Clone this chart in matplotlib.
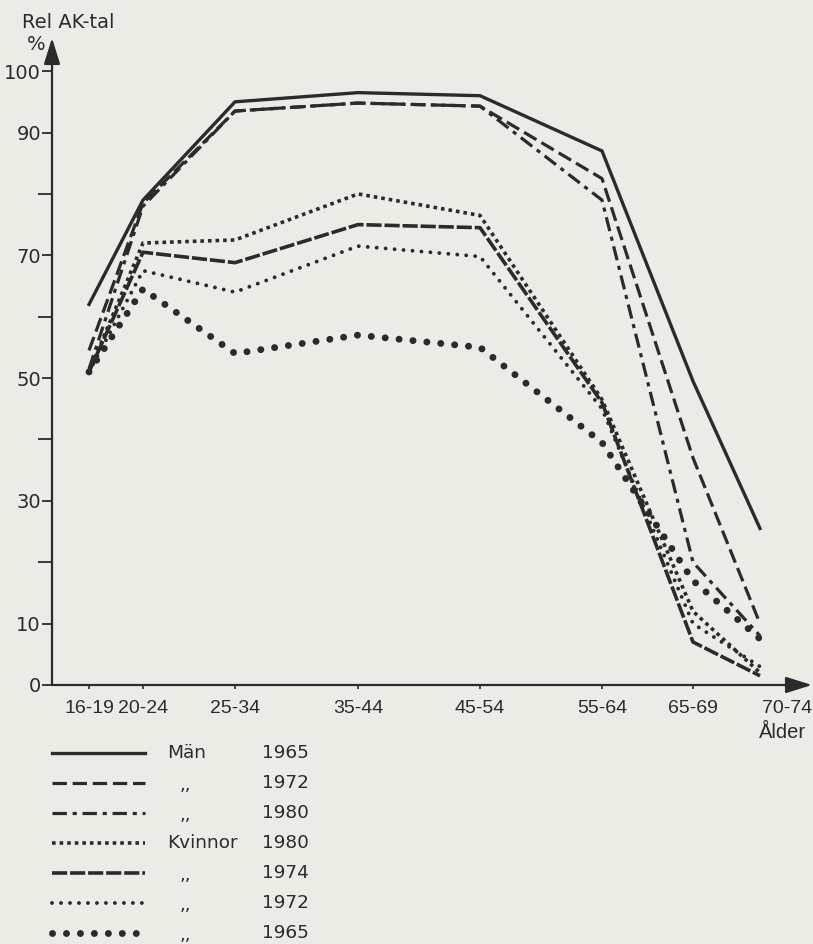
import matplotlib
matplotlib.use("Agg")
import matplotlib.pyplot as plt

# age groups: position along the age axis (drawn scale of the original) and labels
age_labels = ['16-19', '20-24', '25-34', '35-44', '45-54', '55-64', '65-69', '70-74']
age_pos = [37, 91, 183, 306, 428, 550, 641, 708]      # where the points sit
tick_pos = [37, 91, 183, 306, 428, 550, 641, 735]     # where the labels sit

# relative labour force participation, %
man_1965 = [62, 79, 95, 96.5, 96, 87, 49.5, 25.5]
man_1972 = [54.5, 78.5, 93.5, 94.8, 94.3, 82.5, 37, 10]
man_1980 = [51.5, 78, 93.5, 94.8, 94.3, 79, 20, 8]
kv_1980 = [51, 72, 72.5, 80, 76.5, 46.5, 12, 2]
kv_1974 = [51, 70.5, 68.8, 75, 74.5, 46, 7, 1.5]
kv_1972 = [51, 67.5, 64, 71.5, 69.8, 45, 10, 3]
kv_1965 = [51, 64.5, 54, 57, 55, 39.5, 17, 7.5]

y_labelled = [0, 10, 30, 50, 70, 90, 100]
y_unlabelled = [20, 40, 60, 80]

bg = '#ecece6'
ink = '#2b2b2b'

# (values, group label, year, style)
series = [
    (man_1965, 'Män', '1965', dict(lw=2.4, ls='-')),
    (man_1972, ',,', '1972', dict(lw=2.3, dashes=(4.5, 1.8))),
    (man_1980, ',,', '1980', dict(lw=2.3, dashes=(4.5, 1.8, 1.3, 1.8))),
    (kv_1980, 'Kvinnor', '1980', dict(lw=2.6, dashes=(1.0, 1.1))),
    (kv_1974, ',,', '1974', dict(lw=2.6, dashes=(4.2, 0.8))),
    (kv_1972, ',,', '1972', dict(lw=2.8, dashes=(0.01, 2.3), dash_capstyle='round')),
    (kv_1965, ',,', '1965', dict(lw=5.0, dashes=(0.01, 2.0), dash_capstyle='round')),
]

fig = plt.figure(figsize=(8.13, 9.44), dpi=100, facecolor=bg)
ax = fig.add_axes([52 / 813, 259 / 944, 760 / 813, 647 / 944])
ax.set_facecolor(bg)
ax.patch.set_alpha(0)

for vals, grp, yr, st in series:
    ax.plot(age_pos, vals, color=ink, **st)

ax.set_xlim(0, 760)
ax.set_ylim(0, 105.4)
for s in ax.spines.values():
    s.set_visible(False)

# axes with arrow heads
arr = dict(arrowstyle='-|>,head_length=0.8,head_width=0.25', color=ink, lw=1.6,
           shrinkA=0, shrinkB=0, mutation_scale=20)
ax.annotate('', xy=(0, 1), xytext=(0, 0), xycoords='axes fraction', arrowprops=arr,
            annotation_clip=False)
ax.annotate('', xy=(1, 0), xytext=(0, 0), xycoords='axes fraction', arrowprops=arr,
            annotation_clip=False)

ax.set_yticks(y_labelled)
ax.set_yticklabels([str(v) for v in y_labelled], fontsize=14, family='DejaVu Sans', color=ink)
ax.set_yticks(y_unlabelled, minor=True)
ax.tick_params(axis='y', which='major', length=7, width=1.3, color=ink, pad=1)
ax.tick_params(axis='y', which='minor', length=10, width=1.3, color=ink)

ax.set_xticks(tick_pos)
ax.set_xticklabels(age_labels, fontsize=14, family='Liberation Sans', color=ink)
ax.tick_params(axis='x', length=3, width=1.2, direction='out', color=ink, pad=8)

fig.text(22 / 813, 1 - 23 / 944, 'Rel AK-tal', fontsize=14, family='DejaVu Sans',
         color=ink, va='center', ha='left')
fig.text(27 / 813, 1 - 44 / 944, '%', fontsize=14, family='DejaVu Sans',
         color=ink, va='center', ha='left')
fig.text(783 / 813, 1 - 732 / 944, 'Ålder', fontsize=14.5, family='Liberation Sans',
         color=ink, va='center', ha='center')

# legend, laid out in pixel coordinates below the chart
lg = fig.add_axes([0, 0, 1, 1])
lg.set_xlim(0, 813)
lg.set_ylim(944, 0)
lg.axis('off')
lg.patch.set_alpha(0)
row_y = 753
for vals, grp, yr, st in series:
    lg.plot([52, 145], [row_y, row_y], color=ink, **st)
    if grp == ',,':
        lg.text(185, row_y + 2, grp, fontsize=13, family='DejaVu Sans', color=ink,
                ha='center', va='center')
    else:
        lg.text(167, row_y, grp, fontsize=13.3, family='DejaVu Sans', color=ink,
                ha='left', va='center')
    lg.text(262, row_y, yr, fontsize=13.3, family='DejaVu Sans', color=ink,
            ha='left', va='center')
    row_y += 30

fig.savefig('out.png', dpi=100, facecolor=bg)
